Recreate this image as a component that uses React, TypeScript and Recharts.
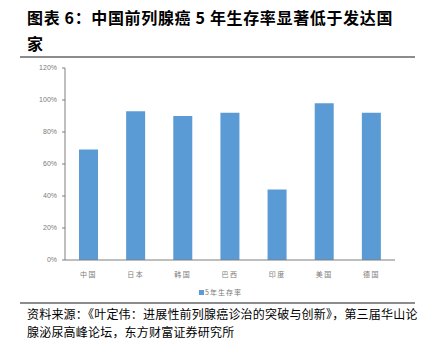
import { BarChart, Bar, XAxis, YAxis } from "recharts";

const countries = ["中国", "日本", "韩国", "巴西", "印度", "美国", "德国"];
const survival = [69, 93, 90, 92, 44, 98, 92];
const yTicks = [0, 20, 40, 60, 80, 100, 120];

const data = countries.map((name, i) => ({ name, rate: survival[i] }));

const cjk = '"Noto Sans CJK SC", "Noto Sans", sans-serif';

const App = () => {
  return (
    <div
      style={{
        position: "absolute",
        left: 0,
        top: 0,
        width: 425,
        height: 342,
        background: "#fff",
        fontFamily: cjk,
      }}
    >
      <div
        style={{
          position: "absolute",
          left: 27,
          top: 4,
          fontSize: 16,
          fontWeight: 700,
          lineHeight: "26px",
          letterSpacing: 0.65,
          color: "#000",
          whiteSpace: "nowrap",
        }}
      >
        图表 6：中国前列腺癌 5 年生存率显著低于发达国
        <br />家
      </div>
      <div
        style={{
          position: "absolute",
          left: 20,
          top: 56,
          width: 395,
          height: 2,
          background: "#8c8c8c",
        }}
      />

      <BarChart
        width={425}
        height={342}
        data={data}
        margin={{ top: 68, right: 30, bottom: 62, left: 15 }}
        style={{ position: "absolute", left: 0, top: 0 }}
      >
        <XAxis
          dataKey="name"
          height={20}
          stroke="#7f7f7f"
          tickLine={false}
          tick={{ fontSize: 7, fill: "#7a7a7a", letterSpacing: 1.5 }}
          tickMargin={6}
        />
        <YAxis
          width={50}
          domain={[0, 120]}
          ticks={yTicks}
          tickFormatter={(v) => `${v}%`}
          stroke="#7f7f7f"
          tickSize={3}
          tickMargin={5}
          tick={{ fontSize: 7, fill: "#7a7a7a", fontFamily: "Arial, sans-serif" }}
        />
        <Bar dataKey="rate" fill="#5b9bd5" barSize={19} isAnimationActive={false} />
      </BarChart>

      <div
        style={{
          position: "absolute",
          left: 199,
          top: 287,
          height: 10,
          fontSize: 7,
          lineHeight: "10px",
          color: "#7a7a7a",
          display: "flex",
          alignItems: "center",
          gap: 1,
          whiteSpace: "nowrap",
        }}
      >
        <span style={{ width: 5, height: 5, background: "#5b9bd5", display: "inline-block" }} />
        <span style={{ letterSpacing: 1 }}>5年生存率</span>
      </div>

      <div
        style={{
          position: "absolute",
          left: 20,
          top: 302,
          width: 395,
          height: 2,
          background: "#8c8c8c",
        }}
      />
      <div
        style={{
          position: "absolute",
          left: 27,
          top: 305,
          fontSize: 12,
          lineHeight: "17.5px",
          letterSpacing: 0.2,
          color: "#000",
          whiteSpace: "nowrap",
        }}
      >
        资料来源：《叶定伟：进展性前列腺癌诊治的突破与创新》，第三届华山论
        <br />
        腺泌尿高峰论坛，东方财富证券研究所
      </div>
    </div>
  );
};

export default App;
